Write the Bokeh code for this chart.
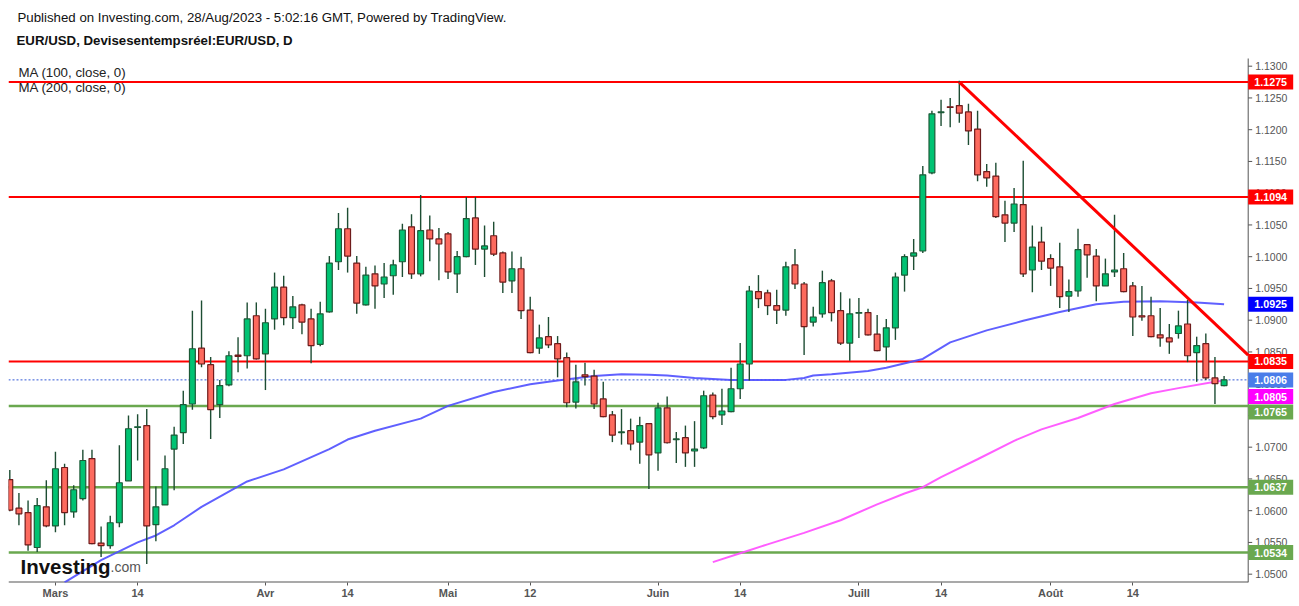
import numpy as np
import pandas as pd
from bokeh.plotting import figure
from bokeh.models import Range1d, FixedTicker, ColumnDataSource
from bokeh.core.properties import value
from bokeh.embed import file_html
from bokeh.resources import INLINE

# ---------------- data ----------------
dates = pd.bdate_range("2023-02-22", "2023-08-28")

opens = [1.0649, 1.0604, 1.0597, 1.0542, 1.0606, 1.0576, 1.0668, 1.0598, 1.0619, 1.0682,
         1.0549, 1.0545, 1.0581, 1.0647, 1.0731, 1.0734, 1.0578, 1.0609, 1.0697, 1.0723,
         1.0768, 1.0856, 1.0830, 1.0767, 1.0798, 1.0845, 1.0844, 1.0907, 1.0847, 1.0902,
         1.0952, 1.0904, 1.0924, 1.0902, 1.0862, 1.0913, 1.0992, 1.1044, 1.0990, 1.0924,
         1.0973, 1.0957, 1.0970, 1.0992, 1.1047, 1.0973, 1.1042, 1.1028, 1.1036, 1.0973,
         1.1000, 1.1061, 1.1012, 1.1033, 1.1006, 1.0962, 1.0981, 1.0916, 1.0856, 1.0874,
         1.0863, 1.0841, 1.0771, 1.0814, 1.0812, 1.0776, 1.0751, 1.0723, 1.0726, 1.0708,
         1.0737, 1.0691, 1.0762, 1.0712, 1.0715, 1.0694, 1.0699, 1.0782, 1.0751, 1.0756,
         1.0792, 1.0831, 1.0945, 1.0943, 1.0923, 1.0916, 1.0987, 1.0957, 1.0897, 1.0910,
         1.0962, 1.0915, 1.0864, 1.0911, 1.0912, 1.0878, 1.0858, 1.0888, 1.0971, 1.1001,
         1.1009, 1.1132, 1.1227, 1.1236, 1.1238, 1.1228, 1.1201, 1.1134, 1.1127, 1.1066,
         1.1053, 1.1082, 1.0979, 1.1023, 1.0997, 1.0984, 1.0938, 1.0946, 1.1019, 1.1001,
         1.0954, 1.0976, 1.0981, 1.0954, 1.0907, 1.0907, 1.0877, 1.0872, 1.0879, 1.0894,
         1.0849, 1.0863, 1.0809, 1.0797]
highs = [1.0664, 1.0628, 1.0616, 1.0620, 1.0648, 1.0693, 1.0674, 1.0640, 1.0696, 1.0696,
         1.0575, 1.0592, 1.0703, 1.0750, 1.0752, 1.0760, 1.0638, 1.0687, 1.0732, 1.0789,
         1.0915, 1.0931, 1.0842, 1.0806, 1.0851, 1.0873, 1.0928, 1.0928, 1.0918, 1.0975,
         1.0970, 1.0938, 1.0926, 1.0918, 1.0929, 1.1001, 1.1069, 1.1077, 1.1001, 1.0984,
         1.0986, 1.0990, 1.0995, 1.1052, 1.1067, 1.1097, 1.1065, 1.1045, 1.1039, 1.1009,
         1.1094, 1.1094, 1.1049, 1.1055, 1.1008, 1.1008, 1.1000, 1.0937, 1.0893, 1.0905,
         1.0875, 1.0849, 1.0830, 1.0833, 1.0822, 1.0803, 1.0757, 1.0760, 1.0745, 1.0748,
         1.0738, 1.0770, 1.0780, 1.0724, 1.0734, 1.0741, 1.0789, 1.0786, 1.0792, 1.0825,
         1.0864, 1.0954, 1.0971, 1.0948, 1.0948, 1.0992, 1.1012, 1.0960, 1.0921, 1.0978,
         1.0965, 1.0944, 1.0934, 1.0935, 1.0918, 1.0908, 1.0902, 1.0975, 1.1004, 1.1028,
         1.1143, 1.1230, 1.1247, 1.1250, 1.1277, 1.1241, 1.1230, 1.1146, 1.1148, 1.1088,
         1.1108, 1.1151, 1.1049, 1.1047, 1.1004, 1.1022, 1.0964, 1.1044, 1.1020, 1.1012,
         1.0997, 1.1066, 1.1006, 1.0960, 1.0954, 1.0937, 1.0919, 1.0894, 1.0915, 1.0932,
         1.0874, 1.0879, 1.0842, 1.0812]
lows = [1.0599, 1.0577, 1.0537, 1.0535, 1.0574, 1.0566, 1.0577, 1.0589, 1.0616, 1.0547,
        1.0527, 1.0540, 1.0574, 1.0647, 1.0679, 1.0516, 1.0552, 1.0609, 1.0632, 1.0705,
        1.0759, 1.0826, 1.0713, 1.0746, 1.0796, 1.0818, 1.0824, 1.0838, 1.0790, 1.0885,
        1.0892, 1.0886, 1.0878, 1.0832, 1.0859, 1.0912, 1.0979, 1.0975, 1.0910, 1.0923,
        1.0918, 1.0935, 1.0940, 1.0968, 1.0965, 1.0969, 1.0993, 1.0963, 1.0965, 1.0943,
        1.0999, 1.0987, 1.0968, 1.1001, 1.0943, 1.0943, 1.0902, 1.0848, 1.0847, 1.0856,
        1.0810, 1.0763, 1.0761, 1.0797, 1.0760, 1.0747, 1.0708, 1.0704, 1.0695, 1.0674,
        1.0634, 1.0663, 1.0706, 1.0675, 1.0669, 1.0669, 1.0697, 1.0744, 1.0735, 1.0755,
        1.0776, 1.0805, 1.0919, 1.0908, 1.0894, 1.0907, 1.0949, 1.0845, 1.0890, 1.0904,
        1.0898, 1.0861, 1.0836, 1.0872, 1.0876, 1.0851, 1.0836, 1.0869, 1.0945, 1.0979,
        1.1006, 1.1130, 1.1206, 1.1204, 1.1211, 1.1176, 1.1119, 1.1110, 1.1061, 1.1023,
        1.1039, 1.0968, 1.0944, 1.0979, 1.0954, 1.0919, 1.0913, 1.0937, 1.0967, 1.0930,
        1.0954, 1.0968, 1.0944, 1.0875, 1.0899, 1.0873, 1.0858, 1.0847, 1.0871, 1.0834,
        1.0803, 1.0806, 1.0768, 1.0796]
closes = [1.0601, 1.0595, 1.0546, 1.0608, 1.0576, 1.0666, 1.0597, 1.0633, 1.0679, 1.0548,
          1.0545, 1.0581, 1.0644, 1.0729, 1.0732, 1.0576, 1.0606, 1.0666, 1.0719, 1.0767,
          1.0855, 1.0831, 1.0759, 1.0797, 1.0844, 1.0843, 1.0902, 1.0839, 1.0896, 1.0952,
          1.0904, 1.0921, 1.0897, 1.0860, 1.0910, 1.0990, 1.1044, 1.1001, 1.0927, 1.0971,
          1.0954, 1.0968, 1.0987, 1.1042, 1.0973, 1.1041, 1.1028, 1.1020, 1.0976, 1.1000,
          1.1060, 1.1012, 1.1017, 1.1004, 1.0960, 1.0981, 1.0915, 1.0849, 1.0872, 1.0861,
          1.0839, 1.0770, 1.0803, 1.0811, 1.0768, 1.0748, 1.0719, 1.0724, 1.0705, 1.0734,
          1.0688, 1.0762, 1.0707, 1.0713, 1.0691, 1.0697, 1.0781, 1.0748, 1.0757, 1.0792,
          1.0831, 1.0946, 1.0934, 1.0923, 1.0916, 1.0984, 1.0957, 1.0890, 1.0905, 1.0959,
          1.0912, 1.0864, 1.0910, 1.0912, 1.0877, 1.0852, 1.0888, 1.0968, 1.1000, 1.1006,
          1.1129, 1.1225, 1.1228, 1.1235, 1.1226, 1.1198, 1.1129, 1.1124, 1.1063, 1.1053,
          1.1083, 1.0973, 1.1015, 1.0993, 1.0982, 1.0937, 1.0945, 1.1011, 1.1003, 1.0954,
          1.0973, 1.0979, 1.0945, 1.0905, 1.0905, 1.0874, 1.0872, 1.0866, 1.0891, 1.0844,
          1.0860, 1.0809, 1.0800, 1.0806]

ma100_dates = ["2023-03-02", "2023-03-08", "2023-03-14", "2023-03-16", "2023-03-20", "2023-03-23",
               "2023-03-30", "2023-04-05", "2023-04-12", "2023-04-14", "2023-04-19", "2023-04-26",
               "2023-05-01", "2023-05-08", "2023-05-12", "2023-05-17", "2023-05-23", "2023-05-26",
               "2023-05-31", "2023-06-02", "2023-06-07", "2023-06-13", "2023-06-16", "2023-06-21",
               "2023-06-23", "2023-06-26", "2023-06-28", "2023-07-04", "2023-07-06", "2023-07-12",
               "2023-07-17", "2023-07-21", "2023-07-27", "2023-08-02", "2023-08-08", "2023-08-11",
               "2023-08-17", "2023-08-23", "2023-08-28"]
ma100_values = [1.0487, 1.0522, 1.0550, 1.0561, 1.0577, 1.0606,
                1.0646, 1.0665, 1.0697, 1.0712, 1.0726, 1.0745,
                1.0765, 1.0787, 1.0799, 1.0805, 1.0812, 1.0815,
                1.0814, 1.0813, 1.0809, 1.0806, 1.0806, 1.0806,
                1.0809, 1.0813, 1.0815, 1.0820, 1.0825, 1.0839,
                1.0865, 1.0884, 1.0899, 1.0913, 1.0925, 1.0929,
                1.0930, 1.0928, 1.0925]

ma200_dates = ["2023-06-09", "2023-06-14", "2023-06-19", "2023-06-23", "2023-06-29", "2023-07-05",
               "2023-07-10", "2023-07-12", "2023-07-14", "2023-07-20", "2023-07-26", "2023-07-31",
               "2023-08-04", "2023-08-10", "2023-08-16", "2023-08-21", "2023-08-25", "2023-08-28"]
ma200_values = [1.0519, 1.0533, 1.0547, 1.0565, 1.0585, 1.0610,
                1.0627, 1.0637, 1.0653, 1.0681, 1.0710, 1.0728,
                1.0746, 1.0768, 1.0785, 1.0793, 1.0803, 1.0805]

resistance_levels = [1.1275, 1.1094, 1.0835]
support_levels = [1.0765, 1.0637, 1.0534]
last_price = 1.0806
ma100_last = 1.0925
ma200_last = 1.0805

trend_dates = ["2023-07-18", "2023-08-31"]
trend_values = [1.1275, 1.0840]

x_tick_dates = ["2023-03-01", "2023-03-14", "2023-04-03", "2023-04-14", "2023-05-01", "2023-05-12",
                "2023-06-01", "2023-06-14", "2023-07-03", "2023-07-14", "2023-08-01", "2023-08-14"]
x_tick_labels = ["Mars", "14", "Avr", "14", "Mai", "12", "Juin", "14", "Juill", "14", "Août", "14"]
y_ticks = [1.0500, 1.0550, 1.0600, 1.0650, 1.0700, 1.0750, 1.0800, 1.0850, 1.0900,
           1.0950, 1.1000, 1.1050, 1.1100, 1.1150, 1.1200, 1.1250, 1.1300]
y_tick_labels = [f"{t:.4f}" for t in y_ticks]

# price boxes on the price scale: value, colour, downward shift (px) to avoid overlap
box_values = [1.1275, 1.1094, ma100_last, 1.0835, last_price, ma200_last, 1.0765, 1.0637, 1.0534]
box_colors = ["#ff0000", "#ff0000", "#0000ff", "#ff0000", "#4a7de9", "#ff00ff",
              "#6aa84f", "#6aa84f", "#6aa84f"]
box_shift_px = [0, 0, 0, 0, 0, 16, 6, 0, 0]

# ---------------- layout / scales ----------------
W, H = 1299, 604
BORDER_L, BORDER_B = 8, 22
FRAME_W, FRAME_H = W - BORDER_L, H - BORDER_B
X_START, X_END = -0.1424, 141.26
Y_START, Y_END = 1.04869, 1.140346
PX_X = FRAME_W / (X_END - X_START)     # pixels per trading day
PX_Y = FRAME_H / (Y_END - Y_START)     # pixels per price unit


def dx(page_x):
    """page pixel x -> data x"""
    return X_START + (page_x - BORDER_L) / PX_X


def dy(page_y):
    """page pixel y -> data y"""
    return Y_END - page_y / PX_Y


all_days = pd.bdate_range("2023-02-22", "2023-09-08")


def pos(d):
    return int(all_days.get_loc(pd.Timestamp(d)))


FONT = "Liberation Sans"
GREEN = "#00c373"
RED = "#fd6a5e"
GREEN_EDGE = "#1c5a37"
RED_EDGE = "#6e1b1b"
WICK = "#1d4d33"
AXIS_COL = "#555555"
AXIS_X = dx(1247.7)
FRAME_TOP = dy(58)

x = np.arange(len(dates))
inc = [c >= o for o, c in zip(opens, closes)]
src = ColumnDataSource(dict(
    x=x, high=highs, low=lows,
    top=[max(o, c) for o, c in zip(opens, closes)],
    bottom=[min(o, c) for o, c in zip(opens, closes)],
    fill=[GREEN if i else RED for i in inc],
    edge=[GREEN_EDGE if i else RED_EDGE for i in inc],
))

p = figure(width=W, height=H, output_backend="svg", toolbar_location=None,
           x_range=Range1d(X_START, X_END), y_range=Range1d(Y_START, Y_END),
           y_axis_location=None, min_border_left=BORDER_L, min_border_right=0,
           min_border_top=0, min_border_bottom=BORDER_B)
p.outline_line_color = None
p.xgrid.visible = False
p.ygrid.visible = False
p.background_fill_color = "white"
p.border_fill_color = "white"

# bottom (time) axis
p.xaxis.ticker = FixedTicker(ticks=[pos(d) for d in x_tick_dates])
p.xaxis.major_label_overrides = {pos(d): lab for d, lab in zip(x_tick_dates, x_tick_labels)}
p.xaxis.minor_tick_line_color = None
p.xaxis.major_tick_in = 0
p.xaxis.major_tick_out = 3
p.xaxis.major_label_standoff = 1
p.xaxis.axis_line_color = None
p.xaxis.major_tick_line_color = AXIS_COL
p.xaxis.major_label_text_color = AXIS_COL
p.xaxis.major_label_text_font = FONT
p.xaxis.major_label_text_font_style = "bold"
p.xaxis.major_label_text_font_size = "11px"

# axis lines (bottom line and price-scale line)
p.segment(x0=[X_START, AXIS_X], y0=[Y_START, Y_START], x1=[AXIS_X, AXIS_X], y1=[Y_START, FRAME_TOP],
          line_color=AXIS_COL, line_width=[2, 1])

# level lines
lv_all = resistance_levels + support_levels
p.segment(x0=[X_START] * len(lv_all), y0=lv_all, x1=[AXIS_X] * len(lv_all), y1=lv_all,
          line_color=["#ff0000"] * len(resistance_levels) + ["#6aa84f"] * len(support_levels),
          line_width=[2] * len(resistance_levels) + [2.5] * len(support_levels))
p.segment(x0=[X_START], y0=[last_price], x1=[AXIS_X], y1=[last_price],
          line_color="#3158d6", line_width=1, line_dash="2 2")

# moving averages
p.line([pos(d) for d in ma100_dates], ma100_values, line_color="#4f4fff", line_width=2, line_alpha=0.9)
p.line([pos(d) for d in ma200_dates], ma200_values, line_color="#ff4dff", line_width=2, line_alpha=0.9)

# candles
p.segment(x0="x", y0="high", x1="x", y1="low", source=src, line_color=WICK, line_width=1.4)
p.vbar(x="x", width=0.64, top="top", bottom="bottom", source=src,
       fill_color="fill", line_color="edge", line_width=1.2)

# trend line, stopped at the price scale
tx = [pos(d) for d in trend_dates]
trend_end = float(np.interp(AXIS_X, tx, trend_values))
p.line([tx[0], AXIS_X], [trend_values[0], trend_end], line_color="#ff0000", line_width=3)

# price scale: ticks and labels
p.segment(x0=[AXIS_X] * len(y_ticks), y0=y_ticks, x1=[AXIS_X + 4 / PX_X] * len(y_ticks), y1=y_ticks,
          line_color=AXIS_COL, line_width=1)
p.text(x=[AXIS_X] * len(y_ticks), y=y_ticks, text=y_tick_labels, x_offset=7,
       text_align="left", text_baseline="middle", text_font=value(FONT),
       text_font_size="10.5px", text_color=AXIS_COL)

# price boxes
box_y = [v - s / PX_Y for v, s in zip(box_values, box_shift_px)]
p.rect(x=[AXIS_X + 22.5 / PX_X] * len(box_values), y=box_y, width=45, height=15,
       width_units="screen", height_units="screen", fill_color=box_colors, line_color=None)
p.text(x=[AXIS_X + 22.5 / PX_X] * len(box_values), y=box_y, text=[f"{v:.4f}" for v in box_values],
       text_align="center", text_baseline="middle", text_font=value(FONT),
       text_font_style="bold", text_font_size="10.7px", text_color="white")

# header and legend texts
p.text(x=[dx(17)], y=[dy(17)],
       text=["Published on Investing.com, 28/Aug/2023 - 5:02:16 GMT, Powered by TradingView."],
       text_align="left", text_baseline="middle", text_font=value(FONT),
       text_font_size="13.25px", text_color="#111111")
p.text(x=[dx(16)], y=[dy(40)], text=["EUR/USD, Devisesentempsréel:EUR/USD, D"],
       text_align="left", text_baseline="middle", text_font=value(FONT),
       text_font_size="13.25px", text_font_style="bold", text_color="#111111")
p.text(x=[dx(18), dx(18)], y=[dy(72), dy(87)], text=["MA (100, close, 0)", "MA (200, close, 0)"],
       text_align="left", text_baseline="middle", text_font=value(FONT),
       text_font_size="13.3px", text_color="#222222")

# watermark
p.text(x=[dx(20)], y=[dy(566)], text=["Investing"], text_align="left", text_baseline="alphabetic",
       text_font=value(FONT), text_font_size="20.5px", text_font_style="bold", text_color="#111111")
p.text(x=[dx(110)], y=[dy(566)], text=[".com"], text_align="left", text_baseline="alphabetic",
       text_font=value(FONT), text_font_size="14px", text_color="#555555")

open("out.html", "w").write(file_html(p, INLINE))
